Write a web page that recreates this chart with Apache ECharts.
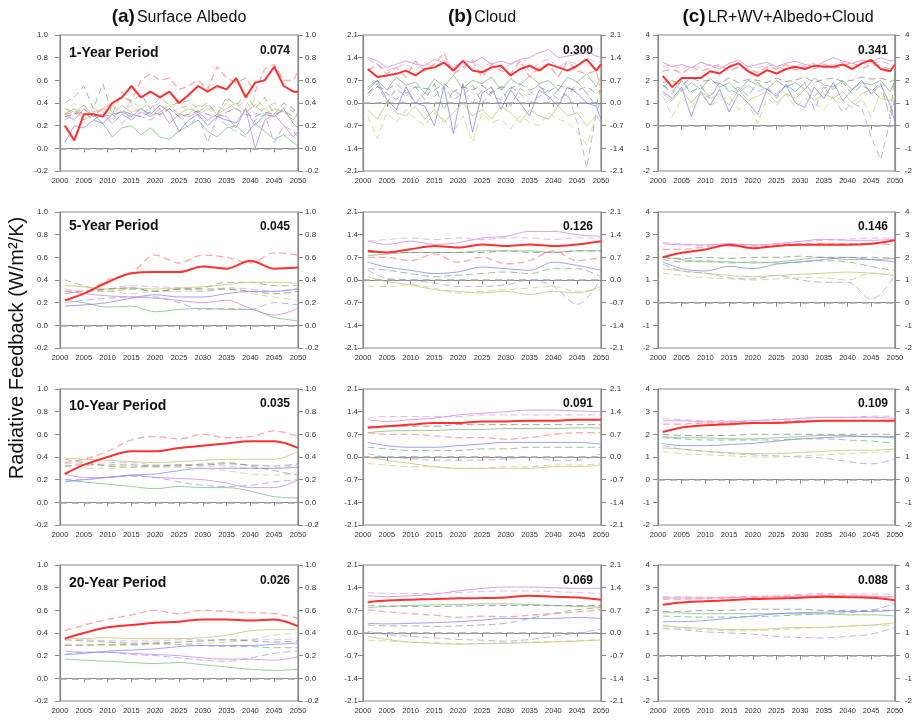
<!DOCTYPE html>
<html>
<head>
<meta charset="utf-8">
<script src="https://cdn.jsdelivr.net/npm/echarts@6/dist/echarts.min.js"></script>
<style>
html,body{margin:0;padding:0;background:#fff;}
#chart{width:915px;height:721px;}
</style>
</head>
<body>
<div id="chart"></div>
<script>
// ---------------- DATA ----------------
const yearsAnnual = [2001,2003,2005,2007,2009,2011,2013,2015,2017,2019,2021,2023,2025,2027,2029,2031,2033,2035,2037,2039,2041,2043,2045,2047,2049,2050];
const yearsSmooth = [2001,2005,2010,2015,2020,2025,2030,2035,2040,2045,2050];

const columnTitles = ['Surface Albedo', 'Cloud', 'LR+WV+Albedo+Cloud'];
const columnLetters = ['(a)', '(b)', '(c)'];
const periodLabels = ['1-Year Period', '5-Year Period', '10-Year Period', '20-Year Period'];
const spreadValues = [
  ['0.074', '0.300', '0.341'],
  ['0.045', '0.126', '0.146'],
  ['0.035', '0.091', '0.109'],
  ['0.026', '0.069', '0.088']
];
const yTicksA = [-0.2, 1.0, 0.2];
const yTicksB = [-2.1, 2.1, 0.7];
const yTicksC = [-2, 4, 1];
const xTicks = [2000, 2050, 5];

// model order: red solid, red dashed, violet solid, violet dashed, green solid, green dashed,
// blue solid, blue dashed, olive solid, olive dashed, gray dashed
const albedo1 = [
  [0.20,0.07,0.30,0.30,0.28,0.40,0.45,0.55,0.45,0.50,0.45,0.50,0.40,0.47,0.55,0.50,0.55,0.52,0.62,0.45,0.58,0.60,0.72,0.55,0.50,0.50],
  [0.30,0.32,0.30,0.30,0.35,0.40,0.45,0.42,0.60,0.66,0.60,0.62,0.52,0.55,0.60,0.52,0.72,0.62,0.58,0.62,0.50,0.70,0.74,0.60,0.60,0.68],
  [0.30,0.25,0.35,0.28,0.30,0.22,0.30,0.25,0.32,0.28,0.35,0.22,0.30,0.28,0.32,0.25,0.30,0.28,0.18,0.35,0.00,0.25,0.30,0.20,0.10,0.15],
  [0.35,0.30,0.38,0.32,0.35,0.40,0.32,0.38,0.30,0.36,0.40,0.32,0.35,0.38,0.30,0.34,0.38,0.32,0.36,0.42,0.30,0.35,0.40,0.36,0.32,0.38],
  [0.30,0.35,0.25,0.30,0.22,0.10,0.18,0.20,0.12,0.18,0.10,0.08,0.15,0.20,0.25,0.15,0.10,0.18,0.20,0.12,0.22,0.15,0.08,0.12,0.05,0.02],
  [0.40,0.45,0.55,0.35,0.57,0.30,0.50,0.40,0.48,0.35,0.45,0.38,0.40,0.42,0.35,0.40,0.30,0.45,0.38,0.48,0.35,0.45,0.30,0.40,0.35,0.30],
  [0.05,0.20,0.18,0.25,0.22,0.30,0.32,0.28,0.35,0.30,0.38,0.32,0.15,0.25,0.30,0.20,0.28,0.25,0.22,0.35,0.20,0.30,0.28,0.35,0.22,0.18],
  [0.25,0.30,0.35,0.28,0.32,0.30,0.22,0.30,0.28,0.25,0.30,0.35,0.28,0.18,0.30,0.05,0.28,0.20,0.15,0.10,0.25,0.30,0.05,0.20,0.15,0.10],
  [0.35,0.32,0.38,0.28,0.35,0.30,0.38,0.32,0.35,0.28,0.32,0.38,0.30,0.35,0.32,0.38,0.30,0.35,0.40,0.32,0.38,0.30,0.35,0.32,0.25,0.30],
  [0.30,0.40,0.28,0.35,0.32,0.38,0.30,0.42,0.35,0.40,0.28,0.35,0.42,0.30,0.38,0.35,0.30,0.40,0.35,0.28,0.45,0.35,0.30,0.40,0.32,0.35],
  [0.28,0.30,0.32,0.25,0.30,0.28,0.33,0.30,0.28,0.32,0.30,0.35,0.28,0.30,0.33,0.30,0.28,0.32,0.35,0.30,0.28,0.32,0.30,0.33,0.28,0.30]
];
const cloud1 = [
  [1.05,0.80,0.85,0.90,1.00,0.85,1.05,1.10,1.25,1.00,1.30,1.00,0.95,1.10,1.15,0.85,1.05,1.15,1.00,1.20,1.10,1.00,1.15,1.35,1.00,1.20],
  [1.00,1.20,0.90,1.10,0.80,1.30,1.00,1.20,1.55,0.90,1.10,1.30,0.80,1.20,1.00,0.90,1.30,0.80,1.10,1.20,0.80,1.30,1.00,0.90,1.00,0.40],
  [1.40,1.30,1.10,1.20,1.30,1.20,1.15,1.35,1.25,1.10,1.30,1.25,1.40,1.20,1.30,1.20,1.35,1.40,1.55,1.65,1.40,1.45,1.50,1.60,1.45,1.40],
  [1.35,1.20,1.00,1.10,1.20,1.00,1.25,1.10,1.30,1.20,1.00,1.35,1.10,1.25,1.05,1.20,1.30,1.00,1.25,1.35,1.10,1.30,1.20,1.40,1.25,1.30],
  [0.50,0.70,0.40,0.80,0.55,0.65,0.30,0.75,0.50,0.85,0.45,0.70,0.60,0.80,0.40,0.75,0.55,0.85,0.60,0.70,0.40,0.80,0.65,0.90,0.50,0.80],
  [0.30,0.60,0.00,0.45,0.20,0.50,0.10,0.60,-0.20,0.40,0.20,0.55,0.00,0.35,0.50,-0.10,0.45,0.25,0.60,0.10,0.40,0.20,0.65,0.30,-0.10,0.50],
  [0.40,0.70,0.10,-0.20,0.50,0.00,-0.10,-0.70,0.50,-0.95,0.60,-0.90,0.30,0.50,-0.20,0.40,0.00,-0.40,0.40,0.20,-0.10,0.50,0.30,0.00,-0.10,-0.50],
  [0.20,0.50,0.30,0.10,0.40,0.00,0.30,0.20,0.50,0.10,0.30,0.00,0.40,0.20,0.10,0.50,0.30,0.00,0.20,0.40,0.10,0.30,-0.60,-2.00,-0.30,0.10],
  [-0.20,-0.50,0.00,-0.30,-0.40,-0.10,-0.50,-0.20,-0.60,-0.30,0.00,-0.40,-0.20,-0.50,-0.10,-0.30,-0.60,-0.20,-0.40,-0.50,-0.10,-0.40,-0.30,-0.70,-0.40,-0.60],
  [-0.40,-1.10,-0.30,-0.60,-0.20,-0.50,-0.70,-0.30,-0.50,-0.90,-0.40,-1.20,-0.30,-0.60,-0.50,-0.80,-0.40,-0.60,-0.70,-0.30,-0.50,-0.60,-0.90,-1.30,-0.40,-0.60],
  [0.30,0.50,0.40,0.60,0.30,0.50,0.45,0.40,0.60,0.35,0.50,0.40,0.55,0.30,0.50,0.45,0.60,0.40,0.50,0.35,0.55,0.45,0.40,0.50,0.30,0.40]
];
const total1 = [
  [2.20,1.70,2.10,2.10,2.10,2.40,2.30,2.60,2.75,2.40,2.20,2.45,2.30,2.50,2.60,2.50,2.65,2.60,2.60,2.70,2.50,2.75,2.90,2.50,2.40,2.70],
  [2.40,2.50,2.30,2.60,2.40,2.55,2.70,2.40,2.60,2.50,2.35,2.60,2.50,2.70,2.45,2.60,2.50,2.70,2.55,2.60,2.80,2.50,2.70,2.60,2.50,2.60],
  [2.80,2.60,2.70,2.55,2.80,2.65,2.50,2.75,2.90,2.60,2.70,2.80,2.60,2.75,2.85,2.70,2.60,2.80,3.00,2.85,2.75,2.90,2.80,3.00,2.85,2.90],
  [2.60,2.70,2.50,2.65,2.55,2.70,2.60,2.50,2.75,2.60,2.55,2.70,2.60,2.50,2.70,2.65,2.75,2.60,2.70,2.80,2.65,2.75,2.70,2.85,2.70,2.80],
  [1.70,2.00,1.50,1.90,1.60,2.10,1.70,1.90,1.50,2.00,1.80,1.60,2.00,1.70,1.90,1.60,2.10,1.80,1.70,2.00,1.60,1.90,1.80,2.00,1.50,2.00],
  [1.80,1.50,2.00,1.40,1.80,1.20,1.90,1.50,1.70,1.30,1.90,1.60,1.40,1.80,1.50,1.90,1.30,1.70,1.60,1.90,1.40,1.80,1.50,1.90,0.30,2.40],
  [1.50,1.20,1.70,0.40,1.50,0.90,1.60,0.60,1.40,1.00,0.50,1.60,1.30,1.80,1.00,0.80,1.70,1.20,1.90,1.10,1.60,2.00,1.40,1.80,0.90,0.20],
  [1.80,1.40,2.00,1.50,1.70,1.30,1.90,1.60,1.40,1.80,1.50,1.70,1.20,1.80,1.50,1.90,0.70,1.70,1.20,0.60,1.00,0.80,-0.50,-1.50,0.20,1.20],
  [1.40,1.10,1.60,1.00,1.50,1.20,1.40,0.90,1.60,1.10,1.30,1.50,1.00,1.40,1.20,1.60,1.10,1.40,1.20,1.50,1.00,1.40,1.60,1.20,1.10,1.30],
  [1.30,0.40,1.20,0.80,1.40,0.90,1.10,1.30,0.70,1.00,0.10,1.20,0.90,1.40,0.80,1.20,1.00,0.70,1.30,1.10,0.80,1.20,0.40,1.50,0.60,1.30],
  [1.90,2.00,1.80,2.10,1.95,2.00,1.85,2.10,1.90,2.05,2.00,1.90,2.10,1.95,2.00,2.15,1.90,2.05,2.10,1.95,2.00,2.15,2.05,2.10,1.95,2.00]
];
const albedo5 = [
  [0.22,0.28,0.38,0.46,0.47,0.47,0.52,0.50,0.57,0.50,0.51],
  [0.30,0.30,0.40,0.46,0.62,0.55,0.62,0.60,0.55,0.64,0.62],
  [0.30,0.28,0.26,0.25,0.24,0.22,0.20,0.22,0.15,0.09,0.15],
  [0.32,0.30,0.32,0.35,0.34,0.33,0.30,0.33,0.32,0.30,0.33],
  [0.22,0.20,0.16,0.17,0.12,0.14,0.15,0.14,0.14,0.07,0.04],
  [0.40,0.35,0.30,0.32,0.30,0.32,0.33,0.38,0.38,0.35,0.35],
  [0.17,0.18,0.20,0.24,0.27,0.25,0.25,0.28,0.30,0.30,0.32],
  [0.20,0.22,0.24,0.25,0.25,0.20,0.14,0.15,0.14,0.20,0.18],
  [0.35,0.34,0.32,0.33,0.32,0.33,0.34,0.36,0.38,0.38,0.37],
  [0.30,0.30,0.30,0.28,0.30,0.30,0.30,0.32,0.28,0.25,0.22],
  [0.28,0.30,0.32,0.33,0.30,0.32,0.32,0.32,0.30,0.28,0.30]
];
const cloud5 = [
  [0.90,0.85,0.95,1.05,1.00,1.10,1.05,1.10,1.05,1.10,1.20],
  [0.70,0.70,0.60,0.80,0.55,0.70,0.50,0.60,0.90,0.60,0.70],
  [1.20,1.10,1.20,1.10,1.15,1.30,1.35,1.50,1.50,1.40,1.35],
  [1.20,1.25,1.30,1.25,1.30,1.25,1.30,1.30,1.25,1.30,1.30],
  [0.75,0.80,0.85,0.85,0.85,0.90,0.90,0.90,0.85,0.90,0.90],
  [0.35,0.30,0.20,0.10,0.15,0.20,0.25,0.20,0.35,0.35,0.10],
  [0.55,0.40,0.30,0.20,0.25,0.40,0.35,0.30,0.55,0.45,0.30],
  [0.30,0.05,0.00,-0.10,-0.20,-0.20,-0.15,0.00,-0.20,-0.75,0.05],
  [0.10,-0.05,-0.15,-0.30,-0.35,-0.40,-0.35,-0.45,-0.35,-0.40,-0.20],
  [-0.20,-0.20,-0.15,-0.25,-0.40,-0.35,-0.30,-0.25,-0.20,-0.35,-0.30],
  [0.85,0.85,0.85,0.85,0.85,0.85,0.90,0.85,0.85,0.90,0.90]
];
const total5 = [
  [2.00,2.20,2.35,2.55,2.40,2.50,2.55,2.55,2.55,2.60,2.75],
  [2.35,2.35,2.45,2.50,2.50,2.55,2.60,2.60,2.60,2.60,2.55],
  [2.60,2.55,2.55,2.60,2.55,2.60,2.70,2.80,2.75,2.75,2.80],
  [2.65,2.60,2.50,2.60,2.50,2.60,2.70,2.75,2.80,2.85,2.85],
  [2.00,1.90,1.80,1.80,1.75,1.80,1.90,2.00,1.90,1.90,1.95],
  [1.90,1.80,1.85,1.75,1.80,1.75,1.80,1.85,1.80,1.60,1.40],
  [1.80,1.50,1.40,1.60,1.50,1.70,1.80,1.90,2.00,1.90,1.80],
  [1.70,1.40,1.30,1.10,1.05,1.20,1.00,0.90,0.90,0.15,1.20],
  [1.50,1.40,1.30,1.20,1.15,1.20,1.25,1.30,1.35,1.30,1.20],
  [1.30,1.20,1.10,1.05,1.00,1.05,1.10,1.10,1.00,1.30,1.20],
  [2.00,1.95,2.00,1.95,2.00,2.00,2.05,2.00,2.00,2.00,1.95]
];
const albedo10 = [
  [0.25,0.33,0.40,0.45,0.45,0.48,0.50,0.52,0.54,0.54,0.48],
  [0.35,0.38,0.45,0.55,0.58,0.56,0.60,0.57,0.58,0.63,0.58],
  [0.25,0.22,0.22,0.24,0.22,0.21,0.20,0.17,0.13,0.13,0.20],
  [0.34,0.34,0.35,0.35,0.33,0.33,0.32,0.32,0.30,0.30,0.33],
  [0.20,0.18,0.16,0.14,0.12,0.14,0.13,0.13,0.10,0.05,0.04],
  [0.38,0.35,0.32,0.31,0.32,0.32,0.34,0.35,0.32,0.28,0.24],
  [0.18,0.20,0.22,0.24,0.25,0.28,0.30,0.30,0.30,0.30,0.31],
  [0.20,0.20,0.22,0.23,0.22,0.18,0.15,0.14,0.15,0.18,0.20],
  [0.39,0.38,0.37,0.36,0.35,0.36,0.37,0.38,0.38,0.38,0.45],
  [0.32,0.30,0.30,0.31,0.31,0.31,0.30,0.28,0.25,0.24,0.26],
  [0.32,0.33,0.33,0.33,0.32,0.33,0.33,0.34,0.33,0.32,0.34]
];
const cloud10 = [
  [0.90,0.95,1.00,1.05,1.05,1.10,1.10,1.12,1.12,1.15,1.15],
  [0.75,0.70,0.70,0.65,0.60,0.60,0.55,0.60,0.70,0.75,0.75],
  [1.15,1.10,1.15,1.20,1.30,1.35,1.40,1.45,1.45,1.42,1.40],
  [1.20,1.25,1.25,1.25,1.25,1.30,1.30,1.30,1.30,1.30,1.30],
  [0.75,0.80,0.82,0.82,0.85,0.85,0.88,0.88,0.88,0.90,0.90],
  [0.30,0.25,0.20,0.20,0.20,0.25,0.25,0.30,0.30,0.30,0.30],
  [0.45,0.35,0.30,0.30,0.35,0.40,0.45,0.45,0.45,0.45,0.40],
  [0.10,0.00,-0.05,-0.10,-0.10,-0.10,-0.05,0.00,-0.10,-0.10,0.10],
  [0.00,-0.10,-0.20,-0.30,-0.35,-0.35,-0.35,-0.35,-0.30,-0.30,-0.25],
  [-0.20,-0.25,-0.30,-0.30,-0.35,-0.35,-0.30,-0.30,-0.25,-0.25,-0.20],
  [0.95,0.95,0.95,0.95,1.00,1.00,1.00,1.00,1.00,1.00,1.00]
];
const total10 = [
  [2.10,2.30,2.40,2.45,2.50,2.50,2.55,2.60,2.60,2.60,2.60],
  [2.45,2.45,2.50,2.50,2.50,2.55,2.60,2.60,2.60,2.60,2.55],
  [2.60,2.60,2.55,2.55,2.60,2.65,2.70,2.75,2.75,2.75,2.70],
  [2.70,2.65,2.60,2.60,2.60,2.65,2.70,2.75,2.75,2.80,2.80],
  [1.90,1.85,1.85,1.80,1.80,1.85,1.90,1.95,1.95,1.90,1.90],
  [1.85,1.80,1.75,1.75,1.75,1.75,1.80,1.80,1.75,1.70,1.60],
  [1.60,1.50,1.50,1.55,1.60,1.70,1.80,1.85,1.90,1.90,1.85],
  [1.50,1.35,1.25,1.15,1.10,1.05,1.00,0.95,0.80,0.70,0.90],
  [1.40,1.35,1.25,1.20,1.15,1.15,1.20,1.25,1.30,1.30,1.35],
  [1.25,1.15,1.10,1.05,1.00,1.00,1.05,1.10,1.15,1.20,1.25],
  [2.00,1.95,1.95,1.95,2.00,2.00,2.00,2.00,2.00,2.00,2.00]
];
const albedo20 = [
  [0.35,0.40,0.45,0.47,0.49,0.50,0.52,0.52,0.51,0.52,0.46],
  [0.42,0.47,0.52,0.56,0.60,0.57,0.60,0.59,0.58,0.57,0.53],
  [0.24,0.23,0.23,0.22,0.21,0.20,0.18,0.17,0.17,0.16,0.19],
  [0.34,0.34,0.33,0.33,0.33,0.34,0.34,0.34,0.34,0.34,0.35],
  [0.17,0.16,0.15,0.14,0.13,0.14,0.12,0.10,0.08,0.07,0.08],
  [0.34,0.33,0.32,0.31,0.31,0.30,0.29,0.28,0.28,0.27,0.27],
  [0.21,0.22,0.24,0.25,0.26,0.28,0.29,0.29,0.29,0.30,0.31],
  [0.21,0.23,0.23,0.21,0.20,0.18,0.16,0.15,0.18,0.22,0.24],
  [0.36,0.35,0.36,0.35,0.35,0.35,0.36,0.38,0.42,0.43,0.43],
  [0.30,0.30,0.29,0.29,0.30,0.30,0.31,0.32,0.34,0.38,0.40],
  [0.29,0.29,0.30,0.30,0.31,0.32,0.33,0.34,0.33,0.32,0.33]
];
const cloud20 = [
  [0.95,1.00,1.03,1.05,1.07,1.08,1.10,1.15,1.12,1.10,1.03],
  [0.72,0.65,0.60,0.55,0.48,0.52,0.50,0.55,0.60,0.65,0.72],
  [1.15,1.12,1.15,1.20,1.30,1.38,1.42,1.42,1.40,1.38,1.38],
  [1.25,1.22,1.22,1.22,1.25,1.28,1.30,1.30,1.28,1.25,1.22],
  [0.78,0.82,0.85,0.87,0.88,0.90,0.90,0.88,0.85,0.82,0.80],
  [0.25,0.22,0.22,0.20,0.22,0.25,0.30,0.45,0.60,0.72,0.78],
  [0.30,0.28,0.30,0.32,0.35,0.40,0.45,0.45,0.45,0.48,0.45],
  [0.05,-0.05,-0.10,-0.15,-0.20,-0.22,-0.25,-0.20,-0.10,0.00,0.12],
  [-0.10,-0.20,-0.28,-0.32,-0.35,-0.33,-0.32,-0.30,-0.28,-0.25,-0.22],
  [-0.22,-0.25,-0.28,-0.30,-0.32,-0.32,-0.30,-0.28,-0.26,-0.24,-0.20],
  [0.85,0.83,0.82,0.82,0.83,0.85,0.85,0.85,0.85,0.85,0.85]
];
const total20 = [
  [2.25,2.35,2.40,2.45,2.50,2.52,2.55,2.60,2.58,2.55,2.45],
  [2.50,2.50,2.52,2.55,2.58,2.60,2.65,2.68,2.65,2.62,2.58],
  [2.55,2.55,2.55,2.56,2.58,2.60,2.62,2.65,2.65,2.62,2.60],
  [2.60,2.60,2.58,2.60,2.62,2.65,2.70,2.75,2.72,2.72,2.70],
  [1.90,1.88,1.85,1.85,1.85,1.85,1.85,1.85,1.80,1.80,1.75],
  [1.75,1.72,1.70,1.70,1.72,1.75,1.80,1.85,1.90,2.00,2.30],
  [1.50,1.50,1.55,1.65,1.75,1.85,1.90,1.92,1.95,1.95,2.00],
  [1.20,1.15,1.05,1.00,0.95,0.85,0.80,0.78,0.85,0.95,1.25],
  [1.35,1.25,1.20,1.15,1.15,1.20,1.25,1.25,1.30,1.35,1.45],
  [1.30,1.20,1.15,1.10,1.10,1.15,1.20,1.25,1.30,1.35,1.35],
  [1.95,1.95,2.00,2.00,2.05,2.05,2.05,2.00,2.00,2.00,2.00]
];

// ---------------- STYLES / LAYOUT ----------------
const modelStyles = [
  {color:'#ff3030', type:'solid',  width:2.0, z:5, opacity:1},
  {color:'#ff9c9c', type:[7,4],    width:1.3, z:3, opacity:0.9},
  {color:'#cc80dd', type:'solid',  width:1.0, z:2, opacity:0.75},
  {color:'#d9a0e8', type:[7,4],    width:1.0, z:2, opacity:0.75},
  {color:'#78bb78', type:'solid',  width:1.0, z:2, opacity:0.75},
  {color:'#78ad78', type:[7,4],    width:1.0, z:2, opacity:0.75},
  {color:'#7777ff', type:'solid',  width:1.0, z:2, opacity:0.7},
  {color:'#9999ff', type:[7,4],    width:1.0, z:2, opacity:0.75},
  {color:'#c2c270', type:'solid',  width:1.0, z:2, opacity:0.75},
  {color:'#cbcb80', type:[7,4],    width:1.0, z:2, opacity:0.75},
  {color:'#808080', type:[7,4],    width:1.0, z:2, opacity:0.7}
];
const panelData = [
  [albedo1, cloud1, total1],
  [albedo5, cloud5, total5],
  [albedo10, cloud10, total10],
  [albedo20, cloud20, total20]
];
const rowYears = [yearsAnnual, yearsSmooth, yearsSmooth, yearsSmooth];
const colY = [yTicksA, yTicksB, yTicksC];
const colLeft = [60, 363, 658];
const colWidth = [238, 238, 240];
const rowTop = [35, 212, 389, 565];
const gridH = 136;
const leftMargin = [12, 5, 8];
const rightMargin = [7, 9, 10];
const periodDy = [19, 15, 18, 19];
const valueDy = [17, 16, 16, 17];
const valueInset = [8, 8, 10];
const FONT = '"Liberation Sans", Arial, Helvetica, sans-serif';

const grids = [], xAxes = [], yAxes = [], series = [], graphics = [];
let gi = 0;
for (let r = 0; r < 4; r++) {
  for (let c = 0; c < 3; c++) {
    grids.push({left: colLeft[c], top: rowTop[r], width: colWidth[c], height: gridH,
      show: true, borderColor: '#8a8a8a', borderWidth: 1.2, backgroundColor: 'transparent'});
    xAxes.push({type: 'value', gridIndex: gi, min: xTicks[0], max: xTicks[1], interval: xTicks[2],
      axisLine: {show: true, lineStyle: {color: '#8a8a8a', width: 1.2}},
      axisTick: {show: true, length: 4, lineStyle: {color: '#8a8a8a'}},
      splitLine: {show: false},
      axisLabel: {fontSize: 7.5, color: '#333', margin: 6, fontFamily: FONT, formatter: v => String(v)}});
    const [mn, mx, iv] = colY[c];
    const fmt = c === 2 ? (v => String(Math.round(v))) : (v => v.toFixed(1));
    yAxes.push({type: 'value', gridIndex: gi, min: mn, max: mx, interval: iv, position: 'left',
      axisLine: {show: true, lineStyle: {color: '#8a8a8a', width: 1.2}},
      axisTick: {show: true, length: 5, lineStyle: {color: '#8a8a8a'}},
      splitLine: {show: false},
      axisLabel: {fontSize: 8, color: '#333', margin: leftMargin[c], fontFamily: FONT, formatter: fmt}});
    yAxes.push({type: 'value', gridIndex: gi, min: mn, max: mx, interval: iv, position: 'right',
      axisLine: {show: true, lineStyle: {color: '#8a8a8a', width: 1.2}},
      axisTick: {show: true, length: 5, lineStyle: {color: '#8a8a8a'}},
      splitLine: {show: false},
      axisLabel: {fontSize: 8, color: '#333', margin: rightMargin[c], fontFamily: FONT, formatter: fmt}});
    const years = rowYears[r];
    const sets = panelData[r][c];
    sets.forEach((vals, k) => {
      const st = modelStyles[k];
      const s = {
        type: 'line', xAxisIndex: gi, yAxisIndex: gi * 2, showSymbol: false, symbol: 'none',
        smooth: r === 0 ? false : 0.35, z: st.z, silent: true, animation: false,
        lineStyle: {color: st.color, type: st.type, width: st.width, opacity: st.opacity},
        data: years.map((y, i) => [y, vals[i]])
      };
      if (k === 0) {
        s.markLine = {silent: true, symbol: 'none', animation: false, z: 1,
          label: {show: false},
          lineStyle: {color: '#a8a8a8', type: [7, 5], width: 1.5},
          data: [{yAxis: 0}]};
      }
      series.push(s);
    });
    // period label (only first column)
    if (c === 0) {
      graphics.push({type: 'text', left: colLeft[c] + 9, top: rowTop[r] + periodDy[r] - 8,
        style: {text: periodLabels[r], font: 'bold 14px ' + FONT, fill: '#111'}});
    }
    graphics.push({type: 'text', right: 915 - (colLeft[c] + colWidth[c] - valueInset[c]), top: rowTop[r] + valueDy[r] - 7,
      style: {text: spreadValues[r][c], font: 'bold 12px ' + FONT, fill: '#111', textAlign: 'right'}});
    gi++;
  }
}
// column titles
for (let c = 0; c < 3; c++) {
  graphics.push({type: 'text', x: colLeft[c] + colWidth[c] / 2, y: 17,
    style: {
      text: '{l|' + columnLetters[c] + '}{t|' + columnTitles[c] + '}',
      textAlign: 'center', textVerticalAlign: 'middle',
      rich: {
        l: {font: 'bold 19px ' + FONT, fill: '#111'},
        t: {font: '16px ' + FONT, fill: '#111', padding: [1, 0, 0, 2]}
      }
    }});
}
// y-axis title
graphics.push({type: 'text', x: 17, y: 348, rotation: Math.PI / 2,
  style: {text: 'Radiative Feedback (W/m²/K)', font: '20px ' + FONT, fill: '#111',
    textAlign: 'center', textVerticalAlign: 'middle'}});

const chart = echarts.init(document.getElementById('chart'), null, {renderer: 'canvas'});
chart.setOption({
  animation: false,
  backgroundColor: '#fff',
  grid: grids, xAxis: xAxes, yAxis: yAxes, series: series, graphic: graphics
});
</script>
</body>
</html>
